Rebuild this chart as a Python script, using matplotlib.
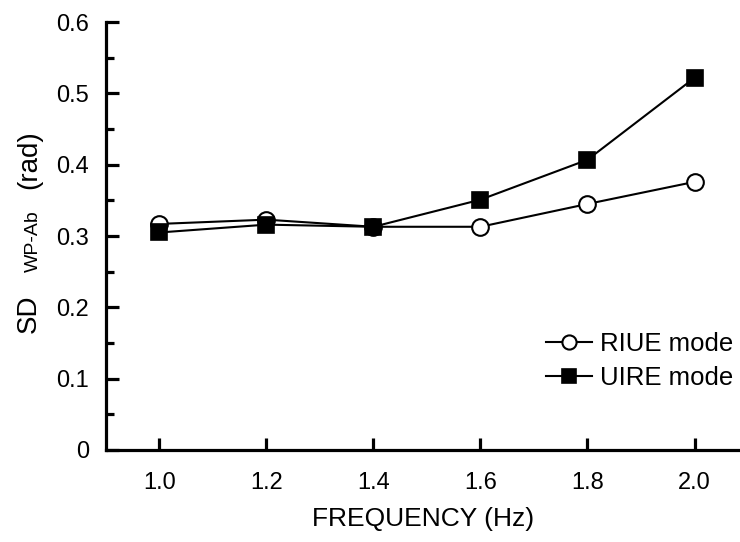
import matplotlib.pyplot as plt
from matplotlib.ticker import MultipleLocator

plt.rcParams['font.family'] = ['Liberation Sans', 'DejaVu Sans']

freq = [1.0, 1.2, 1.4, 1.6, 1.8, 2.0]
riue = [0.317, 0.323, 0.313, 0.313, 0.345, 0.376]  # open circles
uire = [0.305, 0.316, 0.313, 0.351, 0.407, 0.522]  # filled squares
xticklabels = ['1.0', '1.2', '1.4', '1.6', '1.8', '2.0']

W, H = 740, 542
fig = plt.figure(figsize=(W / 100, H / 100), dpi=100)
ax = fig.add_axes([0.143, 0.170, 0.857, 0.789])

ax.plot(freq, riue, color='black', lw=1.5, marker='o', markersize=12,
        markerfacecolor='white', markeredgecolor='black', markeredgewidth=1.5,
        label='RIUE mode', zorder=3)
ax.plot(freq, uire, color='black', lw=1.5, marker='s', markersize=12,
        markerfacecolor='black', markeredgecolor='black', markeredgewidth=1.2,
        label='UIRE mode', zorder=4)

ax.set_xlim(0.9, 2.085)
ax.set_ylim(0, 0.6)
ax.set_xticks(freq)
ax.set_xticklabels(xticklabels)
ax.set_yticks([0, 0.1, 0.2, 0.3, 0.4, 0.5, 0.6])
ax.set_yticklabels(['0', '0.1', '0.2', '0.3', '0.4', '0.5', '0.6'])
ax.yaxis.set_minor_locator(MultipleLocator(0.05))

for s in ['top', 'right']:
    ax.spines[s].set_visible(False)
for s in ['left', 'bottom']:
    ax.spines[s].set_linewidth(2.3)

ax.tick_params(axis='both', which='major', direction='in', length=9, width=2.3,
               labelsize=17)
ax.tick_params(axis='x', which='major', pad=16)
ax.tick_params(axis='y', which='major', pad=12)
ax.tick_params(axis='y', which='minor', direction='in', length=6, width=2.3)

ax.set_xlabel('FREQUENCY (Hz)', fontsize=19, labelpad=9)

# y label in three pieces: SD, subscript, unit
kw = dict(rotation=90, rotation_mode='anchor', va='baseline')
fig.text(36 / W, 1 - 333 / H, 'SD', ha='left', fontsize=20, **kw)
fig.text(38 / W, 1 - 272 / H, 'WP-Ab', ha='left', fontsize=14, **kw)
fig.text(36 / W, 1 - 130 / H, '(rad)', ha='right', fontsize=20, **kw)

ax.legend(loc='upper left', bbox_to_anchor=(546 / W, 1 - 332 / H),
          bbox_transform=fig.transFigure, borderpad=0, borderaxespad=0,
          frameon=False, fontsize=18.5, handlelength=1.8, handletextpad=0.3,
          markerscale=0.85, labelspacing=0.4)

plt.savefig('out.png', dpi=100)
